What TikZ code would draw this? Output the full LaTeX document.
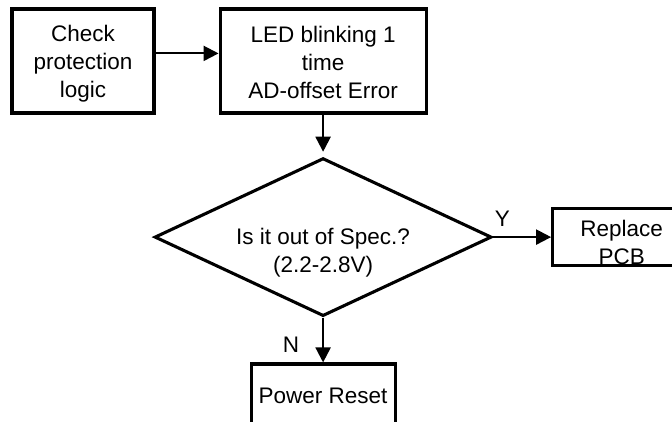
\documentclass[tikz,border=0pt]{standalone}
\usepackage{fontspec}
\setmainfont{Liberation Sans}
\usetikzlibrary{arrows.meta, positioning, shapes.geometric}
\tikzset{
	box/.style={rectangle, draw, line width=2.2pt, align=center,
		font=\fontsize{16}{19.9}\selectfont},
	dec/.style={diamond, draw, line width=2.2pt, align=center, aspect=2.13,
		inner sep=0pt, minimum width=8.425cm, minimum height=3.95cm,
		font=\fontsize{16}{19.9}\selectfont},
	arr/.style={-{Triangle[length=0.375cm, width=0.375cm]}, line width=1.5pt},
	lbl/.style={font=\fontsize{16}{19.9}\selectfont, inner sep=1pt},
}
\begin{document}
\begin{tikzpicture}
	\path[use as bounding box, clip] (0,0) rectangle (16.8,-10.525);
	\node[box, minimum width=3.55cm, minimum height=2.6cm, text height=1.96cm] (check) at (2.075,-1.525) {Check\\protection\\logic};
	\node[box, minimum width=5.15cm, minimum height=2.6cm, text height=1.87cm, right=1.575cm of check] (led) {LED blinking 1\\time\\AD-offset Error};
	\node[dec, text height=1.75cm, text depth=0pt, below=1.05cm of led] (spec) {Is it out of Spec.?\\(2.2-2.8V)};
	\node[box, minimum width=3.45cm, minimum height=1.425cm, inner ysep=0pt, text height=1.375cm, text depth=0pt, right=1.45cm of spec] (pcb) {Replace\\PCB};
	\node[box, minimum width=3.6cm, minimum height=1.6cm, below=1.12cm of spec] (reset) {Power Reset};

	\draw[arr] ([yshift=0.19cm]check.east) -- ([yshift=0.19cm]led.west);
	\draw[arr, shorten >=0.12cm] (led) -- (spec);
	\draw[arr] (spec) -- node[lbl, above=0.2cm, pos=0.16] (yes) {Y} (pcb);
	\draw[arr] (spec) -- node[lbl, left=0.54cm, pos=0.6] (no) {N} (reset);
\end{tikzpicture}
\end{document}
